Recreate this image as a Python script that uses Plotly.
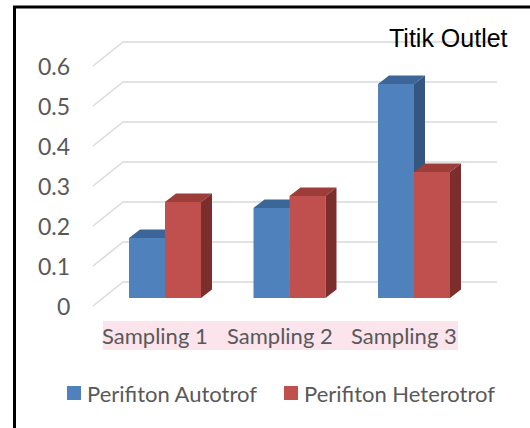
import plotly.graph_objects as go

# ---------------- data ----------------
categories = ["Sampling 1", "Sampling 2", "Sampling 3"]
series_names = ["Perifiton Autotrof", "Perifiton Heterotrof"]
autotrof = [0.15, 0.225, 0.535]
heterotrof = [0.24, 0.255, 0.315]
tick_values = [0, 0.1, 0.2, 0.3, 0.4, 0.5, 0.6]
tick_labels = ["0", "0.1", "0.2", "0.3", "0.4", "0.5", "0.6"]
title_text = "Titik Outlet"

# ---------------- styling / geometry ----------------
W, H = 530, 428
PXX = 1 / 124.5   # category units per pixel
PXY = 1 / 400.0   # value units per pixel
XR = [-165 * PXX, (W - 165) * PXX]
YR = [-(H - 298) * PXY, 298 * PXY]

bar_w = 36 * PXX
ddx, ddy = 11 * PXX, 8.5 * PXY           # bar depth
front_dx, front_dy = -10 * PXX, -8 * PXY  # front edge of floor/wall
back_dy = 16 * PXY                        # back wall
wall_front_x = (93 - 165) * PXX
wall_back_x = (123 - 165) * PXX
wall_right = (497 - 165) * PXX

colors = {
    "front": ["#4F81BD", "#C0504D"],
    "top": ["#3D6698", "#9C3D3A"],
    "side": ["#35577F", "#7C2E2C"],
}
grey = "#595959"
grid = "#D9D9D9"
FONT = "Lato"

fig = go.Figure()

series = [autotrof, heterotrof]
for s, vals in enumerate(series):
    xa = "x" if s == 0 else "x2"
    ya = "y" if s == 0 else "y2"
    offset = -bar_w if s == 0 else 0.0
    fig.add_trace(go.Bar(
        x=list(range(len(categories))), y=vals, width=bar_w, offset=offset,
        marker=dict(color=colors["front"][s], line=dict(width=0)),
        name=series_names[s], xaxis=xa, yaxis=ya, hoverinfo="skip",
        showlegend=False,
    ))
    tx, ty, sx, sy = [], [], [], []
    for i, v in enumerate(vals):
        x0 = i + offset
        x1 = x0 + bar_w
        tx += [x0, x1, x1 + ddx, x0 + ddx, x0, None]
        ty += [v, v, v + ddy, v + ddy, v, None]
        sx += [x1, x1, x1 + ddx, x1 + ddx, x1, None]
        sy += [0, v, v + ddy, ddy, 0, None]
    for px, py, c in [(tx, ty, colors["top"][s]), (sx, sy, colors["side"][s])]:
        fig.add_trace(go.Scatter(
            x=px, y=py, mode="lines", fill="toself", fillcolor=c,
            line=dict(width=0, color=c), showlegend=False, hoverinfo="skip",
            xaxis=xa, yaxis=ya,
        ))

shapes = []
# border frame
shapes.append(dict(type="rect", xref="paper", yref="paper",
                   x0=14.5 / W, x1=1.1, y0=-0.1, y1=1 - 7 / H,
                   line=dict(color="black", width=3), layer="below"))
# gridlines on back wall and left wall
for v in tick_values:
    shapes.append(dict(type="line", xref="x", yref="y",
                       x0=wall_back_x, x1=wall_right, y0=v + back_dy, y1=v + back_dy,
                       line=dict(color=grid, width=1.5), layer="below"))
    shapes.append(dict(type="line", xref="x", yref="y",
                       x0=wall_front_x, x1=wall_back_x, y0=v + front_dy, y1=v + back_dy,
                       line=dict(color=grid, width=1.5), layer="below"))
# white title box hiding the gridline behind the title
shapes.append(dict(type="rect", xref="paper", yref="paper",
                   x0=370 / W, x1=515 / W, y0=1 - 56 / H, y1=1 - 22 / H,
                   fillcolor="white", line=dict(width=0), layer="below"))
# pink category label band
shapes.append(dict(type="rect", xref="x", yref="y",
                   x0=(103 - 165) * PXX, x1=(458 - 165) * PXX,
                   y0=(298 - 350) * PXY, y1=(298 - 321) * PXY,
                   fillcolor="#FCE4EC", line=dict(width=0), layer="below"))

annotations = []
for v, t in zip(tick_values, tick_labels):
    annotations.append(dict(xref="paper", yref="y", x=71.5 / W, y=v + front_dy + 0.5 * PXY,
                            text=t, showarrow=False, xanchor="right", yanchor="middle",
                            font=dict(family=FONT, size=23, color=grey)))
for i, c in enumerate(categories):
    annotations.append(dict(xref="x", yref="y", x=i + front_dx, y=(298 - 335.5) * PXY,
                            text=c, showarrow=False, xanchor="center", yanchor="middle",
                            font=dict(family=FONT, size=22, color=grey)))
annotations.append(dict(xref="paper", yref="paper", x=387 / W, y=1 - 38 / H,
                        text=title_text, showarrow=False, xanchor="left", yanchor="middle",
                        font=dict(family="Liberation Sans", size=25, color="black")))

# legend (manual, so that key squares sit close to their text)
legend_sq_x = [67, 284]
legend_tx_x = [85, 302]
legend_y = 393
for s, name in enumerate(series_names):
    shapes.append(dict(type="rect", xref="paper", yref="paper",
                       x0=legend_sq_x[s] / W, x1=(legend_sq_x[s] + 14) / W,
                       y0=1 - (legend_y + 7) / H, y1=1 - (legend_y - 7) / H,
                       fillcolor=colors["front"][s], line=dict(width=0)))
    annotations.append(dict(xref="paper", yref="paper", x=legend_tx_x[s] / W, y=1 - legend_y / H,
                            text=name, showarrow=False, xanchor="left", yanchor="middle",
                            font=dict(family=FONT, size=22, color=grey)))

axis_common = dict(visible=False, fixedrange=True)
fig.update_layout(
    width=W, height=H, margin=dict(l=0, r=0, t=0, b=0),
    paper_bgcolor="white", plot_bgcolor="white",
    xaxis=dict(range=XR, **axis_common),
    yaxis=dict(range=YR, **axis_common),
    xaxis2=dict(range=XR, overlaying="x", **axis_common),
    yaxis2=dict(range=YR, overlaying="y", **axis_common),
    shapes=shapes, annotations=annotations,
    showlegend=False,
)

fig.write_html("out.html", config={"displayModeBar": False},
               post_script="document.body.style.margin='0';")
